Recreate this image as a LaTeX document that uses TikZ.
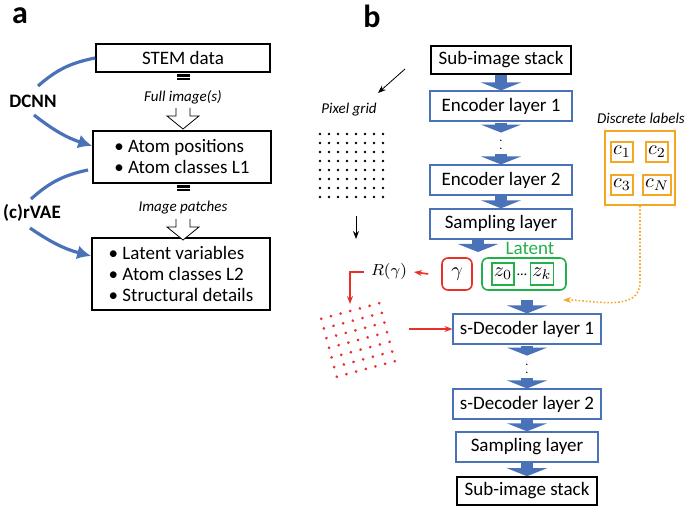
\documentclass[tikz,border=0pt]{standalone}
\usepackage{fontspec}
\setmainfont{Carlito}
\usetikzlibrary{arrows.meta}
\definecolor{boxblue}{HTML}{4A72B8}
\definecolor{latgreen}{HTML}{22B04B}
\definecolor{labred}{HTML}{E8302A}
\definecolor{labor}{HTML}{F5A623}
\tikzset{
  txt/.style={font=\fontsize{9.5}{10.5}\selectfont},
  box/.style={draw, thick, txt, inner sep=1pt},
  layer/.style={draw=boxblue, thick, txt, minimum width=71pt, minimum height=14pt},
  blk/.style={boxblue, line width=6pt, -{Triangle[width=20pt,length=4pt]}},
  note/.style={font=\fontsize{7.5}{9}\selectfont\itshape},
  curve/.style={boxblue, line width=1.6pt},
}
\begin{document}
\begin{tikzpicture}[x=0.5pt,y=-0.5pt]
    \useasboundingbox (0,0) rectangle (685,507);

    % Panel a
    \node[font=\fontsize{16}{16}\selectfont\bfseries] at (20,16) {a};
    \node[box, minimum width=87pt, minimum height=14pt] (stem) at (183,58) {STEM data};
    \node[box, minimum width=89pt, minimum height=26pt, align=left] (pos) at (182,157)
        {• Atom positions\\• Atom classes L1};
    \node[box, minimum width=89pt, minimum height=36pt, align=left] (lat) at (181,274)
        {• Latent variables\\• Atom classes L2\\• Structural details};

    % small bars and hollow arrows
    \foreach \y/\t in {76/Full image(s), 187/Image patches}{
      \fill (177,\y-2) rectangle (190,\y+4);
      \draw[white, line width=0.4pt] (177,\y+1) -- (190,\y+1);
      \node[note] at (183,\y+21) {\t};
      \draw[fill=white] (176,\y+32) -- (176,\y+40) -- (167,\y+40) -- (183,\y+53)
        -- (199,\y+40) -- (190,\y+40) -- (190,\y+32);
    }

    % method labels and curved arrows
    \node[font=\fontsize{9.5}{10}\selectfont\bfseries] (dcnn) at (33,101) {DCNN};
    \node[font=\fontsize{9.5}{10}\selectfont\bfseries] (rvae) at (32,213) {(c)rVAE};
    \draw[curve] (38,86) to[bend left=15] (stem.west);
    \draw[curve, -{Latex[length=7pt,width=7pt]}] (34,115) to[bend right=10] (pos.west|-0,146);
    \draw[curve] (31,199) to[bend left=15] (88,170);
    \draw[curve, -{Latex[length=7pt,width=7pt]}] (30,228) to[bend right=10] (lat.west|-0,256);

    % Panel b
    \node[font=\fontsize{16}{16}\selectfont\bfseries] at (372,16) {b};
    \node[box, minimum width=70pt, minimum height=14pt] (in) at (501,60) {Sub-image stack};
    \node[layer] (enc1) at (501,106) {Encoder layer 1};
    \node[layer] (enc2) at (501,180) {Encoder layer 2};
    \node[layer] (samp1) at (501,224) {Sampling layer};
    \node[layer] (dec1) at (527,329) {s-Decoder layer 1};
    \node[layer] (dec2) at (527,404) {s-Decoder layer 2};
    \node[layer] (samp2) at (527,447) {Sampling layer};
    \node[box, minimum width=70pt, minimum height=14pt] (out) at (527,491) {Sub-image stack};
    \node[inner sep=0pt] (vd1) at (501,143) {\fontsize{6}{6}\selectfont\vdots};
    \node[inner sep=0pt] (vd2) at (527,367) {\fontsize{6}{6}\selectfont\vdots};

    % latent block
    \node[draw=labred, thick, rounded corners=3pt, minimum width=15pt, minimum height=16pt] (gam) at (457,274) {$\gamma$};
    \node[draw=latgreen, thick, rounded corners=3pt, minimum width=42pt, minimum height=16pt] (latb) at (524,274) {};
    \node[draw=latgreen, thick, inner sep=1pt, minimum width=9pt, minimum height=11pt] (z0) at (503,274) {$z_0$};
    \node[draw=latgreen, thick, inner sep=1pt, minimum width=9pt, minimum height=11pt] (zk) at (542,274) {$z_k$};
    \node[font=\fontsize{7}{8}\selectfont] at (522,275) {\ldots};
    \node[txt, text=latgreen] at (530,248) {Latent};

    % block arrows
    \draw[blk] (in.south) -- (enc1.north);
    \draw[blk] (enc1.south) ++(0,1) -- ++(0,10);
    \draw[blk] (enc2.north) ++(0,-10) -- (enc2.north);
    \draw[blk] (enc2.south) -- (samp1.north);
    \draw[blk] (478,240) -- (478,252);
    \draw[blk] (527,300) -- (dec1.north);
    \draw[blk] (dec1.south) ++(0,1) -- ++(0,10);
    \draw[blk] (dec2.north) ++(0,-10) -- (dec2.north);
    \draw[blk] (dec2.south) -- (samp2.north);
    \draw[blk] (samp2.south) -- (out.north);

    % discrete labels
    \node[note] at (641,118) {Discrete labels};
    \node[draw=labor, thick, minimum width=35pt, minimum height=37pt] (disc) at (640,168) {};
    \foreach \n/\x/\y/\c in {c1/622/152/c_1, c2/657/152/c_2, c3/622/185/c_3, cN/657/185/c_N}
      \node[draw=labor, thick, inner sep=1pt, minimum width=10pt, minimum height=10pt] (\n) at (\x,\y) {$\c$};
    \draw[labor, thick, densely dotted, -{Stealth[length=4pt]}] (disc.south) -- (640,282)
        to[out=-90,in=0] (563,300);

    % pixel grid
    \node[note] at (349,110) {Pixel grid};
    \foreach \i in {0,...,7}
      \foreach \j in {0,...,7}
        \fill (320+9*\i,134+9*\j) circle (1.3);
    \coordinate (gs) at (405,69);
    \coordinate (ge) at (378,93);
    \draw[-{Stealth[length=4pt]}] (gs) -- (ge);
    \draw[-{Stealth[length=4pt]}] (356,216) -- (356,239);

    % rotation branch
    \node[font=\fontsize{8}{9}\selectfont] (rg) at (389,272) {$R(\gamma)$};
    \draw[labred, thick, -{Stealth[length=4pt]}] (gam.west) ++(-13,0) -- (rg.east);
    \draw[labred, thick, -{Stealth[length=4pt]}] (rg.west) -| (350,304);
    \begin{scope}[shift={(358,340)}, rotate=15]
      \foreach \i in {-3,...,3}
        \foreach \j in {-3,...,3}
          \fill[labred] (10*\i,10*\j) circle (1.5);
    \end{scope}
    \draw[labred, thick, -{Stealth[length=4pt]}] (409,329) -- (dec1.west);

\end{tikzpicture}
\end{document}
